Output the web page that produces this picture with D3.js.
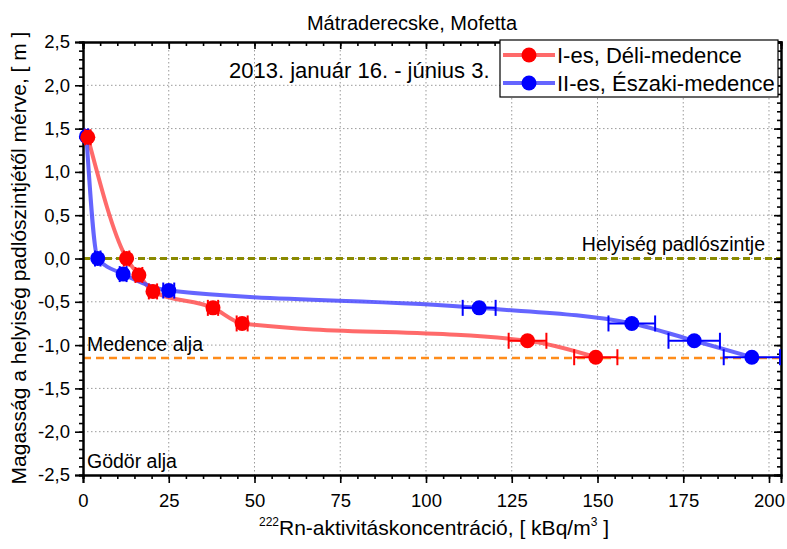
<!DOCTYPE html>
<html>
<head>
<meta charset="utf-8">
<script src="https://cdn.jsdelivr.net/npm/d3@7/dist/d3.min.js"></script>
<style>
  html, body { margin: 0; padding: 0; background: #fff; }
  svg { display: block; font-family: "Liberation Sans", Arial, sans-serif; }
</style>
</head>
<body>
<svg id="chart" width="787" height="549"></svg>
<script>
// Series I-es, Déli-medence
const southX    = [1.4, 12.7, 16.3, 20.4, 37.9, 46.4, 129.6, 149.5];
const southY    = [1.40, 0.00, -0.19, -0.38, -0.57, -0.75, -0.95, -1.14];
const southXErr = [0.8, 0.8, 1.0, 1.2, 1.5, 1.6, 5.5, 6.3];
// Series II-es, Északi-medence
const northX    = [1.0, 4.3, 11.7, 25.0, 115.5, 160.0, 178.2, 195.0];
const northY    = [1.41, 0.00, -0.18, -0.37, -0.57, -0.75, -0.95, -1.14];
const northXErr = [0.5, 0.8, 1.0, 1.6, 4.8, 6.8, 7.5, 8.2];
const yErr = 0.035;

// Reference levels
const floorLevel = 0.0;     // Helyiség padlószintje
const basinLevel = -1.15;   // Medence alja

const xTicks = [0, 25, 50, 75, 100, 125, 150, 175, 200];
const yTicks = [-2.5, -2.0, -1.5, -1.0, -0.5, 0.0, 0.5, 1.0, 1.5, 2.0, 2.5];

const svg = d3.select("#chart");
const m = { left: 83, right: 781, top: 42, bottom: 475 };

const x = d3.scaleLinear().domain([0, 203.5]).range([m.left, m.right]);
const y = d3.scaleLinear().domain([-2.5, 2.5]).range([m.bottom, m.top]);
const fmt = d => d3.format(".1f")(d).replace(".", ",").replace("−", "-");

// grid
const grid = svg.append("g");
grid.selectAll(".gx").data(xTicks.filter(d => d > 0 && d < 203)).enter().append("line")
  .attr("x1", d => x(d)).attr("x2", d => x(d)).attr("y1", m.top).attr("y2", m.bottom)
  .attr("stroke", "#9a9a9a").attr("stroke-width", 1).attr("stroke-dasharray", "1.5,2.5");
grid.selectAll(".gy").data(yTicks.filter(d => d > -2.5 && d < 2.5)).enter().append("line")
  .attr("x1", m.left).attr("x2", m.right).attr("y1", d => y(d)).attr("y2", d => y(d))
  .attr("stroke", "#9a9a9a").attr("stroke-width", 1).attr("stroke-dasharray", "1.5,2.5");

// reference lines
svg.append("line").attr("x1", x(0)).attr("x2", m.right).attr("y1", y(floorLevel)).attr("y2", y(floorLevel))
  .attr("stroke", "#8a8a00").attr("stroke-width", 3).attr("stroke-dasharray", "7,4");
svg.append("line").attr("x1", x(0)).attr("x2", m.right).attr("y1", y(basinLevel)).attr("y2", y(basinLevel))
  .attr("stroke", "#ff8c1a").attr("stroke-width", 2.5).attr("stroke-dasharray", "8,5");

// axes
const xMinor = d3.range(0, 204, 5);
const yMinor = d3.range(-25, 26, 1).map(d => d / 10);

const axB = svg.append("g").attr("transform", `translate(0,${m.bottom})`)
  .call(d3.axisBottom(x).tickValues(xTicks).tickSize(8).tickPadding(6).tickFormat(d3.format("d")));
const axBm = svg.append("g").attr("transform", `translate(0,${m.bottom})`)
  .call(d3.axisBottom(x).tickValues(xMinor).tickSize(4).tickFormat(""));
const axL = svg.append("g").attr("transform", `translate(${m.left},0)`)
  .call(d3.axisLeft(y).tickValues(yTicks).tickSize(8).tickPadding(5).tickFormat(fmt));
const axLm = svg.append("g").attr("transform", `translate(${m.left},0)`)
  .call(d3.axisLeft(y).tickValues(yMinor).tickSize(4).tickFormat(""));
const axT = svg.append("g").attr("transform", `translate(0,${m.top})`)
  .call(d3.axisBottom(x).tickValues(xTicks).tickSize(7).tickFormat(""));
const axTm = svg.append("g").attr("transform", `translate(0,${m.top})`)
  .call(d3.axisBottom(x).tickValues(xMinor).tickSize(4).tickFormat(""));
const axR = svg.append("g").attr("transform", `translate(${m.right},0)`)
  .call(d3.axisLeft(y).tickValues(yTicks).tickSize(7).tickFormat(""));
const axRm = svg.append("g").attr("transform", `translate(${m.right},0)`)
  .call(d3.axisLeft(y).tickValues(yMinor).tickSize(4).tickFormat(""));

[axB, axBm, axL, axLm, axT, axTm, axR, axRm].forEach(g => {
  g.select(".domain").attr("stroke", "#000").attr("stroke-width", 2);
  g.selectAll(".tick line").attr("stroke", "#000").attr("stroke-width", 1.6);
  g.selectAll("text").attr("font-size", 18.5).attr("fill", "#000")
    .attr("font-family", "'Liberation Sans', Arial, sans-serif");
});
axB.selectAll("text").attr("dy", "0.95em");

// curves
const line = d3.line().x(d => x(d[0])).y(d => y(d[1])).curve(d3.curveMonotoneX);
const south = southX.map((v, i) => [v, southY[i], southXErr[i]]);
const north = northX.map((v, i) => [v, northY[i], northXErr[i]]);

svg.append("path").datum(south).attr("d", line).attr("fill", "none")
  .attr("stroke", "#ff5050").attr("stroke-opacity", 0.85).attr("stroke-width", 4);
svg.append("path").datum(north).attr("d", line).attr("fill", "none")
  .attr("stroke", "#4a4aff").attr("stroke-opacity", 0.85).attr("stroke-width", 4);

function drawPoints(data, color) {
  const g = svg.append("g");
  const pts = g.selectAll("g").data(data).enter().append("g");
  // x error bars
  pts.append("line").attr("x1", d => x(d[0] - d[2])).attr("x2", d => x(d[0] + d[2]))
    .attr("y1", d => y(d[1])).attr("y2", d => y(d[1])).attr("stroke", color).attr("stroke-width", 2);
  pts.append("line").attr("x1", d => x(d[0] - d[2])).attr("x2", d => x(d[0] - d[2]))
    .attr("y1", d => y(d[1]) - 8).attr("y2", d => y(d[1]) + 8).attr("stroke", color).attr("stroke-width", 2);
  pts.append("line").attr("x1", d => x(d[0] + d[2])).attr("x2", d => x(d[0] + d[2]))
    .attr("y1", d => y(d[1]) - 8).attr("y2", d => y(d[1]) + 8).attr("stroke", color).attr("stroke-width", 2);
  // y error bars
  pts.append("line").attr("x1", d => x(d[0])).attr("x2", d => x(d[0]))
    .attr("y1", d => y(d[1] + yErr)).attr("y2", d => y(d[1] - yErr)).attr("stroke", color).attr("stroke-width", 2);
  pts.append("circle").attr("cx", d => x(d[0])).attr("cy", d => y(d[1])).attr("r", 7.5).attr("fill", color);
}
drawPoints(north, "#0000ff");
drawPoints(south, "#ff0000");

// annotations
const txt = (t, xx, yy, anchor, size) => svg.append("text").attr("x", xx).attr("y", yy)
  .attr("text-anchor", anchor || "start").attr("font-size", size).attr("fill", "#000").text(t);
txt("Mátraderecske, Mofetta", 412, 30, "middle", 20);
txt("2013. január 16. - június 3.", 229, 78, "start", 22);
txt("Helyiség padlószintje", 765, 251, "end", 19.5);
txt("Medence alja", 87, 351, "start", 19.5);
txt("Gödör alja", 87, 468, "start", 19.5);

// x axis title
const xt = svg.append("text").attr("x", 434).attr("y", 535).attr("text-anchor", "middle")
  .attr("font-size", 21).attr("fill", "#000");
xt.append("tspan").attr("font-size", 12).attr("dy", -9).text("222");
xt.append("tspan").attr("dy", 9).text("Rn-aktivitáskoncentráció, [ kBq/m");
xt.append("tspan").attr("font-size", 12).attr("dy", -9).text("3");
xt.append("tspan").attr("dy", 9).text(" ]");

// y axis title
svg.append("text").attr("transform", `translate(26,${258}) rotate(-90)`)
  .attr("text-anchor", "middle").attr("font-size", 21).attr("fill", "#000")
  .text("Magasság a helyiség padlószintjétől mérve, [ m ]");

// legend
const lg = svg.append("g");
lg.append("rect").attr("x", 500).attr("y", 40).attr("width", 278).attr("height", 57)
  .attr("fill", "#fff").attr("stroke", "#000").attr("stroke-width", 1.2);
const entries = [["I-es, Déli-medence", "#ff0000", "#ff5050"], ["II-es, Északi-medence", "#0000ff", "#4a4aff"]];
entries.forEach((e, i) => {
  const cy = 55 + i * 28;
  lg.append("line").attr("x1", 503).attr("x2", 555).attr("y1", cy).attr("y2", cy)
    .attr("stroke", e[2]).attr("stroke-opacity", 0.85).attr("stroke-width", 4);
  lg.append("circle").attr("cx", 529).attr("cy", cy).attr("r", 7.5).attr("fill", e[1]);
  lg.append("text").attr("x", 557).attr("y", cy + 8).attr("font-size", 22).attr("fill", "#000").text(e[0]);
});
</script>
</body>
</html>
